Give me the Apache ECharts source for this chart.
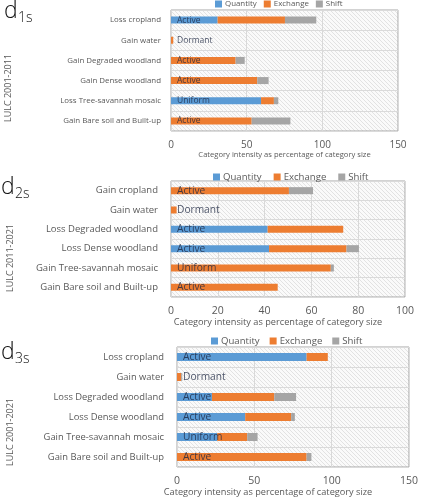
<!DOCTYPE html>
<html>
<head>
<meta charset="utf-8">
<script src="https://cdn.jsdelivr.net/npm/echarts@6/dist/echarts.min.js"></script>
<style>
html,body{margin:0;padding:0;background:#fff;}
#c{width:421px;height:500px;}
</style>
</head>
<body>
<div id="c"></div>
<script>
// ---- Data ----
const cats1 = ['Loss cropland','Gain water','Gain Degraded woodland','Gain Dense woodland','Loss Tree-savannah mosaic','Gain Bare soil and Built-up'];
const quantity1 = [30.8, 0, 0, 0, 59.5, 0];
const exchange1 = [44.5, 1.5, 42.7, 57.0, 8.5, 53.3];
const shift1    = [20.7, 0, 6.0, 7.5, 2.9, 25.6];
const status1   = ['Active','Dormant','Active','Active','Uniform','Active'];

const cats2 = ['Gain cropland','Gain water','Loss Degraded woodland','Loss Dense woodland','Gain Tree-savannah mosaic','Gain Bare soil and Built-up'];
const quantity2 = [0, 0, 41.3, 41.9, 0, 0];
const exchange2 = [50.4, 2.4, 32.3, 33.1, 68.3, 45.6];
const shift2    = [10.3, 0, 0, 5.3, 1.3, 0];
const status2   = ['Active','Dormant','Active','Active','Uniform','Active'];

const cats3 = ['Loss cropland','Gain water','Loss Degraded woodland','Loss Dense woodland','Gain Tree-savannah mosaic','Gain Bare soil and Built-up'];
const quantity3 = [83.8, 0, 22.6, 44.1, 26.0, 0];
const exchange3 = [13.7, 2.7, 40.3, 29.7, 19.4, 83.8];
const shift3    = [0, 0.7, 14.1, 2.4, 6.7, 3.1];
const status3   = ['Active','Dormant','Active','Active','Uniform','Active'];

const seriesNames = ['Quantity','Exchange','Shift'];
const xMax = [150, 100, 150];
const xInterval = [50, 20, 50];
const yNames = ['LULC 2001-2011','LULC 2011-2021','LULC 2001-2021'];
const xName = 'Category intensity as percentage of category size';
const panelTags = [['d','1s'],['d','2s'],['d','3s']];

// ---- Styles ----
const colors = ['#5b9bd5','#ed7d31','#a5a5a5'];
const FONT = '"Open Sans", "Noto Sans", sans-serif';

const pc = document.createElement('canvas');
pc.width = 4; pc.height = 4;
const pctx = pc.getContext('2d');
pctx.fillStyle = '#fafafa'; pctx.fillRect(0,0,4,4);
pctx.strokeStyle = '#e2e2e2'; pctx.lineWidth = 1;
pctx.beginPath(); pctx.moveTo(-1,-1); pctx.lineTo(5,5); pctx.stroke();
pctx.beginPath(); pctx.moveTo(-1,3); pctx.lineTo(1,5); pctx.stroke();
pctx.beginPath(); pctx.moveTo(3,-1); pctx.lineTo(5,1); pctx.stroke();
const hatch = {image: pc, repeat: 'repeat'};

const panels = [
  {cats: cats1, q: quantity1, e: exchange1, s: shift1, st: status1},
  {cats: cats2, q: quantity2, e: exchange2, s: shift2, st: status2},
  {cats: cats3, q: quantity3, e: exchange3, s: shift3, st: status3}
];

const grids = [
  {left: 171, right: 23, top: 10, height: 121},
  {left: 171, right: 16, top: 181, height: 116},
  {left: 177, right: 8, top: 347, height: 120}
];
const catFont = [7.9, 9.5, 9.4];
const tickFont = [10, 10.5, 10.5];
const nameFont = [7.6, 9.2, 9.2];
const lblFont = [8.5, 10.2, 10.2];
const legFont = [7.9, 9.6, 9.6];
const nameGap = [20, 17, 19];
const namePad = [[0,0,0,0],[0,20,0,0],[0,50,0,0]];
const catMargin = [10, 13, 13];
const legendPos = [{left: 215, top: 0}, {left: 213, top: 172}, {left: 211, top: 336}];
const legendGap = [7, 12, 10];
const barW = [7, 7, 8];

const option = {
  animation: false,
  grid: grids.map(g => Object.assign({show: true, borderColor: '#a6a6a6', borderWidth: 1, backgroundColor: hatch}, g)),
  legend: legendPos.map((p, i) => ({
    left: p.left, top: p.top, padding: 0, itemWidth: 7, itemHeight: 7, itemGap: legendGap[i],
    data: seriesNames, icon: 'rect',
    textStyle: {fontFamily: FONT, fontSize: legFont[i], color: '#595959', padding: [0,0,0,-2]}
  })),
  xAxis: panels.map((p, i) => ({
    type: 'value', gridIndex: i, min: 0, max: xMax[i], interval: xInterval[i],
    axisLine: {show: false}, axisTick: {show: false},
    axisLabel: {fontFamily: FONT, fontSize: tickFont[i], color: '#595959', margin: 9},
    splitLine: {show: true, lineStyle: {color: '#d9d9d9', width: 1}},
    name: xName, nameLocation: 'middle', nameGap: nameGap[i],
    nameTextStyle: {fontFamily: FONT, fontSize: nameFont[i], color: '#595959', padding: namePad[i]}
  })),
  yAxis: panels.map((p, i) => ({
    type: 'category', gridIndex: i, data: p.cats, inverse: true,
    axisLine: {show: false}, axisTick: {show: false},
    axisLabel: {fontFamily: FONT, fontSize: catFont[i], color: '#595959', margin: catMargin[i]},
    splitLine: {show: true, lineStyle: {color: '#dadada', width: 1}}
  })),
  series: [],
  graphic: []
};

panels.forEach((p, i) => {
  const vals = [p.q, p.e, p.s];
  vals.forEach((v, k) => {
    option.series.push({
      name: seriesNames[k], type: 'bar', stack: 'p' + i,
      xAxisIndex: i, yAxisIndex: i, data: v, barWidth: barW[i],
      itemStyle: {color: colors[k]}
    });
  });
  option.series.push({
    name: 'status' + i, type: 'scatter', xAxisIndex: i, yAxisIndex: i,
    symbolSize: 0, z: 10, silent: true,
    data: p.cats.map((c) => [0, c]),
    label: {show: true, position: 'right', distance: 6,
      formatter: (prm) => p.st[prm.dataIndex],
      fontFamily: FONT, fontSize: lblFont[i], color: '#1b2540'}
  });
});

// Panel tags and vertical axis titles
const tagPos = [{x: 4, y: 23}, {x: 1, y: 199}, {x: 1, y: 364}];
const yNamePos = [{x: 8, y: 88}, {x: 10, y: 258}, {x: 10, y: 432}];
tagPos.forEach((t, i) => {
  option.graphic.push({
    type: 'text', x: t.x, y: t.y,
    style: {text: panelTags[i][0], font: '300 23px ' + FONT, fill: '#111', textVerticalAlign: 'bottom'}
  });
  option.graphic.push({
    type: 'text', x: t.x + 14, y: t.y + 2,
    style: {text: panelTags[i][1], font: '300 14px ' + FONT, fill: '#111', textVerticalAlign: 'bottom'}
  });
  option.graphic.push({
    type: 'text', x: yNamePos[i].x, y: yNamePos[i].y, rotation: Math.PI / 2,
    style: {text: yNames[i], font: '9px ' + FONT, fill: '#595959', textAlign: 'center', textVerticalAlign: 'middle'}
  });
});

const chart = echarts.init(document.getElementById('c'), null, {renderer: 'canvas'});
chart.setOption(option);
</script>
</body>
</html>
